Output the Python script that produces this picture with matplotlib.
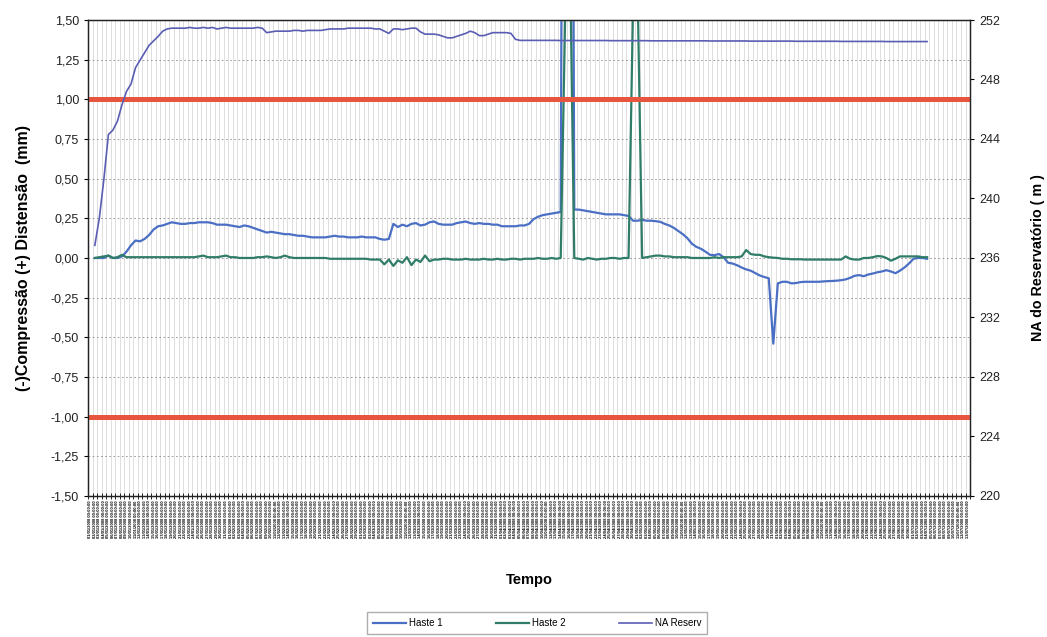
import numpy as np
import pandas as pd
import matplotlib
matplotlib.use('Agg')
import matplotlib.pyplot as plt

plt.rcParams['font.family'] = ['Liberation Sans', 'DejaVu Sans']

# categories on the time axis (labels are unreadable in the scan, daily dates assumed)
n_cat = 195
tempo = pd.date_range('2008-01-01', periods=n_cat, freq='D').strftime('%d/%m/%Y %H:%M:%S')

# Haste 1 (mm), categories 1..185
haste1 = [
    0.00, 0.00, 0.00, 0.015, 0.00, 0.00, 0.01, 0.04, 0.08, 0.11,
    0.105, 0.12, 0.145, 0.18, 0.20, 0.205, 0.215, 0.225, 0.22, 0.215,
    0.215, 0.22, 0.22, 0.225, 0.225, 0.225, 0.22, 0.21, 0.21, 0.21,
    0.205, 0.20, 0.195, 0.205, 0.20, 0.19, 0.18, 0.17, 0.16, 0.165,
    0.16, 0.155, 0.15, 0.15, 0.145, 0.14, 0.14, 0.135, 0.13, 0.13,
    0.13, 0.13, 0.135, 0.14, 0.135, 0.135, 0.13, 0.13, 0.13, 0.135,
    0.13, 0.13, 0.13, 0.12, 0.115, 0.12, 0.215, 0.195, 0.21, 0.20,
    0.215, 0.22, 0.205, 0.21, 0.225, 0.23, 0.215, 0.21, 0.21, 0.21,
    0.22, 0.225, 0.23, 0.22, 0.215, 0.22, 0.215, 0.215, 0.21, 0.21,
    0.20, 0.20, 0.20, 0.20, 0.205, 0.205, 0.215, 0.245, 0.26, 0.27,
    0.275, 0.28, 0.285, 0.29, 8.0, 8.0, 0.305, 0.305, 0.30, 0.295,
    0.29, 0.285, 0.28, 0.275, 0.275, 0.275, 0.275, 0.27, 0.265, 0.235,
    0.235, 0.24, 0.235, 0.235, 0.232, 0.228, 0.215, 0.205, 0.19, 0.17,
    0.15, 0.125, 0.09, 0.07, 0.058, 0.04, 0.02, 0.018, 0.025, 0.005,
    -0.03, -0.035, -0.046, -0.06, -0.072, -0.08, -0.095, -0.11, -0.12, -0.128,
    -0.54, -0.16, -0.15, -0.15, -0.16, -0.158, -0.152, -0.15, -0.15, -0.15,
    -0.15, -0.148, -0.146, -0.145, -0.143, -0.14, -0.135, -0.125, -0.112, -0.108,
    -0.115, -0.104, -0.098, -0.09, -0.085, -0.077, -0.085, -0.096, -0.08, -0.06,
    -0.035, -0.005, 0.0, 0.0, -0.005,
]

# Haste 2 (mm)
haste2 = [
    0.0, 0.005, 0.01, 0.015, 0.0, 0.005, 0.02, 0.005, 0.005, 0.005,
    0.005, 0.005, 0.005, 0.005, 0.005, 0.005, 0.005, 0.005, 0.005, 0.005,
    0.005, 0.005, 0.005, 0.01, 0.015, 0.005, 0.005, 0.005, 0.01, 0.015,
    0.005, 0.005, 0.0, 0.0, 0.0, 0.0, 0.005, 0.005, 0.01, 0.005,
    0.0, 0.005, 0.015, 0.005, 0.0, 0.0, 0.0, 0.0, 0.0, 0.0,
    0.0, 0.0, -0.005, -0.005, -0.005, -0.005, -0.005, -0.005, -0.005, -0.005,
    -0.005, -0.01, -0.01, -0.01, -0.04, -0.01, -0.05, -0.015, -0.03, 0.005,
    -0.045, -0.01, -0.025, 0.015, -0.02, -0.01, -0.01, -0.005, -0.005, -0.01,
    -0.01, -0.01, -0.005, -0.01, -0.01, -0.01, -0.005, -0.01, -0.01, -0.005,
    -0.01, -0.01, -0.005, -0.005, -0.01, -0.005, -0.005, -0.005, 0.0, -0.005,
    -0.005, 0.0, -0.005, 0.0, 1.55, 2.0, 0.0, -0.005, -0.01, 0.0,
    -0.005, -0.01, -0.005, -0.005, 0.0, 0.0, -0.005, 0.0, 0.0, 1.6,
    1.7, 0.0, 0.005, 0.01, 0.015, 0.015, 0.01, 0.01, 0.005, 0.005,
    0.005, 0.005, 0.0, 0.0, 0.0, 0.0, 0.0, 0.005, 0.0, 0.005,
    0.005, 0.005, 0.005, 0.01, 0.05, 0.025, 0.02, 0.02, 0.01, 0.005,
    0.002, 0.0, -0.005, -0.005, -0.008, -0.008, -0.008, -0.01, -0.01, -0.01,
    -0.01, -0.01, -0.01, -0.01, -0.01, -0.01, 0.01, -0.005, -0.01, -0.01,
    0.0, 0.0, 0.005, 0.012, 0.01, 0.0, -0.017, -0.005, 0.01, 0.01,
    0.01, 0.01, 0.01, 0.005, 0.005,
]

# NA do reservatorio (m)
na_reserv = [
    236.85, 238.7, 241.3, 244.3, 244.6, 245.2, 246.3, 247.2, 247.7, 248.8,
    249.3, 249.8, 250.3, 250.6, 250.9, 251.25, 251.4, 251.45, 251.45, 251.45,
    251.45, 251.5, 251.45, 251.45, 251.5, 251.45, 251.5, 251.4, 251.45, 251.5,
    251.45, 251.45, 251.45, 251.45, 251.45, 251.45, 251.5, 251.45, 251.15, 251.2,
    251.25, 251.25, 251.25, 251.25, 251.3, 251.3, 251.25, 251.3, 251.3, 251.3,
    251.3, 251.35, 251.4, 251.4, 251.4, 251.4, 251.45, 251.45, 251.45, 251.45,
    251.45, 251.45, 251.4, 251.4, 251.25, 251.1, 251.4, 251.4, 251.35, 251.4,
    251.45, 251.45, 251.2, 251.05, 251.05, 251.05, 251.0, 250.9, 250.8, 250.8,
    250.9, 251.0, 251.1, 251.25, 251.15, 250.95, 250.95, 251.05, 251.15, 251.15,
    251.15, 251.15, 251.1, 250.7, 250.63, 250.63, 250.63, 250.63, 250.63, 250.63,
    250.63, 250.63, 250.63, 250.62, 250.62, 250.62, 250.62, 250.62, 250.62, 250.62,
    250.62, 250.62, 250.62, 250.62, 250.61, 250.61, 250.61, 250.61, 250.61, 250.61,
    250.61, 250.61, 250.61, 250.6, 250.6, 250.6, 250.6, 250.6, 250.6, 250.6,
    250.6, 250.6, 250.6, 250.6, 250.6, 250.6, 250.59, 250.59, 250.59, 250.59,
    250.59, 250.59, 250.59, 250.59, 250.59, 250.58, 250.58, 250.58, 250.58, 250.58,
    250.58, 250.58, 250.58, 250.58, 250.58, 250.57, 250.57, 250.57, 250.57, 250.57,
    250.57, 250.57, 250.57, 250.57, 250.57, 250.56, 250.56, 250.56, 250.56, 250.56,
    250.56, 250.56, 250.56, 250.56, 250.56, 250.55, 250.55, 250.55, 250.55, 250.55,
    250.55, 250.55, 250.55, 250.55, 250.55,
]

limites = [1.0, -1.0]

x = np.arange(1, len(haste1) + 1)

fig = plt.figure(figsize=(10.47, 6.37), dpi=100)
ax = fig.add_axes([0.0841, 0.2214, 0.8424, 0.7472])
ax2 = ax.twinx()

l1, = ax.plot(x, haste1, color='#4a6fc4', lw=1.6, label='Haste 1', zorder=3)
l2, = ax.plot(x, haste2, color='#2f7d68', lw=1.6, label='Haste 2', zorder=3)
for lim in limites:
    ax.axhline(lim, color='#e8553e', lw=3.6, zorder=4)
l3, = ax2.plot(x, na_reserv, color='#5a5db4', lw=1.2, label='NA Reserv')

ax.set_xlim(-0.5, n_cat - 0.5)
ax.set_ylim(-1.5, 1.5)
ax2.set_ylim(220, 252)

yt = np.arange(-1.5, 1.51, 0.25)
ax.set_yticks(yt)
ax.set_yticklabels([f'{v:.2f}'.replace('.', ',') for v in yt], fontsize=9, color='#222')
ax2.set_yticks(np.arange(220, 253, 4))
ax2.tick_params(axis='y', labelsize=9, labelcolor='#222', length=3)
ax.tick_params(axis='y', length=3)

ax.set_xticks(np.arange(n_cat))
ax.set_xticklabels(tempo, rotation=90, fontsize=2.9, fontweight='bold', color='black')
ax.tick_params(axis='x', which='major', length=0, pad=3)
ax.set_xticks(np.arange(n_cat + 1) - 0.5, minor=True)
ax.tick_params(axis='x', which='minor', length=4, direction='inout')

ax.grid(axis='x', which='minor', color='#d9d9d9', lw=0.6)
ax.grid(axis='y', which='major', color='#8a8a8a', lw=0.6, ls=(0, (2, 3)))
ax.set_axisbelow(True)

for a in (ax, ax2):
    for s in a.spines.values():
        s.set_color('#222')
        s.set_linewidth(0.9)

ax.set_ylabel('(-)Compressão (+) Distensão  (mm)', fontsize=11.5, fontweight='bold', labelpad=14)
ax2.set_ylabel('NA do Reservatório ( m )', fontsize=10.3, fontweight='bold', labelpad=22)
ax.set_xlabel('Tempo', fontsize=10.5, fontweight='bold')
ax.xaxis.set_label_coords(0.5, -0.162)

fig.legend([l1, l2, l3], ['Haste 1', 'Haste 2', 'NA Reserv'], loc='center',
           bbox_to_anchor=(537 / 1047, 1 - 623 / 637), ncol=3, fontsize=7,
           frameon=True, fancybox=False, edgecolor='#999999', handlelength=3.4,
           columnspacing=5.5, borderpad=0.6, handletextpad=0.3)

fig.savefig('out.png', dpi=100)
